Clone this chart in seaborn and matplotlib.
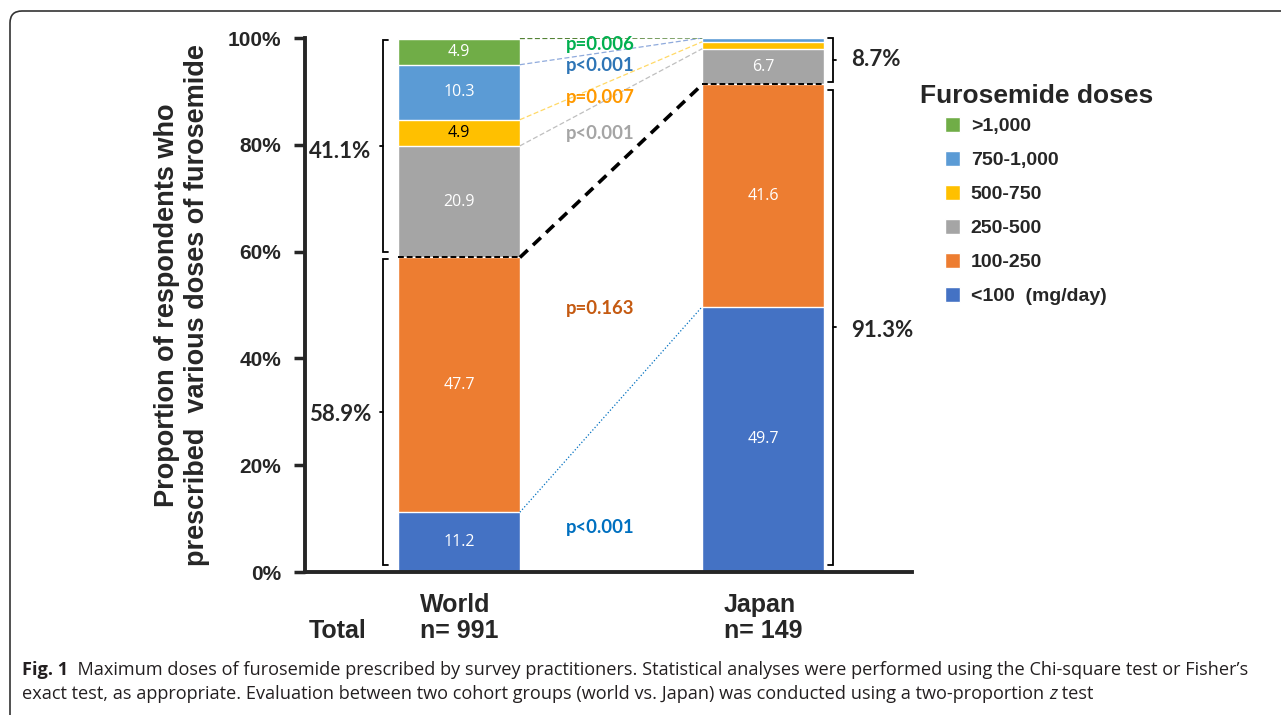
import numpy as np
import seaborn as sns
import matplotlib.pyplot as plt
from matplotlib.patches import Patch, FancyBboxPatch

# data
groups = ['World', 'Japan']
n_total = [991, 149]
doses = ['<100', '100-250', '250-500', '500-750', '750-1,000', '>1,000']
world = [11.2, 47.7, 20.9, 4.9, 10.3, 4.9]
japan = [49.7, 41.6, 6.7, 1.3, 0.7, 0.0]
p_values = ['p<0.001', 'p=0.163', 'p<0.001', 'p=0.007', 'p<0.001', 'p=0.006']

colors = ['#4472c4', '#ed7d31', '#a5a5a5', '#ffc000', '#5b9bd5', '#70ad47']
p_colors = ['#0070c0', '#c55a11', '#a5a5a5', '#ff9900', '#2e75b6', '#00b050']
line_colors = ['#0070c0', 'black', '#bfbfbf', '#ffd966', '#8faadc', '#548235']
p_ypos = [8.4, 49.3, 82.2, 88.9, 94.8, 98.7]

sns.set_style('ticks')
plt.rcParams['font.family'] = ['Liberation Sans', 'DejaVu Sans']

fig = plt.figure(figsize=(12.81, 7.15), dpi=100)
ax = fig.add_axes([305 / 1281, 1 - 572 / 715, 607 / 1281, 534 / 715])

cum_w = np.cumsum(world)
cum_j = np.cumsum(japan)
bw = 0.4

# stacked bars: draw cumulative totals from the top segment down
for i in reversed(range(len(doses))):
    sns.barplot(x=groups, y=[cum_w[i], cum_j[i]], color=colors[i], width=bw,
                saturation=1, ax=ax)

# segment values
for i in range(len(doses)):
    for xpos, vals, cum in [(0, world, cum_w), (1, japan, cum_j)]:
        v = vals[i]
        if v < 3:
            continue
        tc = 'black' if doses[i] == '500-750' else 'white'
        ax.text(xpos, cum[i] - v / 2, f'{v}', ha='center', va='center',
                color=tc, fontsize=11.5, family=['Open Sans'])

# connector lines between the two bars
for i in range(len(doses)):
    if i == 1:
        continue
    ls = ':' if i == 0 else (0, (4, 2))
    ax.plot([bw / 2, 1 - bw / 2], [cum_w[i], cum_j[i]], color=line_colors[i],
            lw=0.9, ls=ls, zorder=3)
ax.plot([bw / 2, 1 - bw / 2], [cum_w[1], cum_j[1]], color='black', lw=2.6,
        ls=(0, (3, 2)), zorder=3)
for xpos, cum in [(0, cum_w), (1, cum_j)]:
    ax.plot([xpos - bw / 2, xpos + bw / 2], [cum[1], cum[1]], color='black',
            lw=1.4, ls=(0, (3, 1.5)), zorder=3)

# p values
for i in range(len(doses)):
    ax.text(0.465, p_ypos[i], p_values[i], ha='center', va='center',
            color=p_colors[i], fontsize=13.3, fontweight='bold', family=['Lato'])


def bracket(x, y0, y1, side):
    s = 0.015 * side
    ax.plot([x + s, x, x, x + s], [y0, y0, y1, y1], color='black', lw=1.3,
            clip_on=False, solid_joinstyle='miter')
    ym = (y0 + y1) / 2
    ax.plot([x, x - s * 0.6], [ym, ym], color='black', lw=1.3, clip_on=False)
    return ym


w_low = cum_w[1]
j_low = cum_j[1]
pct = dict(ha='left', va='center', fontsize=16, fontweight='bold', family=['Lato'])
ym = bracket(-0.25, 99.6, 59.9, 1)
ax.text(-0.495, ym - 1, f'{100 - w_low:.1f}%', **pct)
ym = bracket(-0.25, 58.7, 1.3, 1)
ax.text(-0.495, ym - 0.5, f'{w_low:.1f}%', **pct)
ym = bracket(1.23, 100, 91.8, -1)
ax.text(1.29, ym, f'{100 - j_low:.1f}%', **pct)
ym = bracket(1.23, 90.3, 1.3, -1)
ax.text(1.29, ym - 0.5, f'{j_low:.1f}%', **pct)

# axes styling
ax.set_xlim(-0.507, 1.49)
ax.set_ylim(0, 100)
ax.set_yticks(range(0, 101, 20))
ax.set_yticklabels([f'{v}%' for v in range(0, 101, 20)], fontsize=15,
                   fontweight='bold')
ax.set_xticks([0, 1])
ax.set_xticklabels([f'{g}\nn= {n}' for g, n in zip(groups, n_total)],
                   fontsize=18, fontweight='bold', linespacing=1.12,
                   multialignment='left')
ax.tick_params(axis='x', length=0, pad=15)
ax.tick_params(axis='y', length=8, width=2.5, pad=9, direction='out')
for side in ['top', 'right']:
    ax.spines[side].set_visible(False)
for side in ['left', 'bottom']:
    ax.spines[side].set_linewidth(2.8)
ax.set_xlabel('')
ax.set_ylabel('Proportion of respondents who\nprescribed  various doses of furosemide',
              fontsize=19.5, fontweight='bold', labelpad=13, linespacing=1.2)
fig.text(338 / 1281, 1 - 631 / 715, 'Total', ha='center', va='center',
         fontsize=18, fontweight='bold')

# legend
fig.text(920 / 1281, 1 - 96 / 715, 'Furosemide doses', ha='left', va='center',
         fontsize=19, fontweight='bold')
handles = [Patch(facecolor=colors[i], label=doses[i] + ('  (mg/day)' if i == 0 else ''))
           for i in reversed(range(len(doses)))]
leg = fig.legend(handles=handles, loc='upper left',
                 bbox_to_anchor=(945 / 1281, 1 - 117 / 715), frameon=False,
                 prop={'weight': 'bold', 'size': 14}, labelspacing=0.82,
                 handlelength=0.78, handleheight=0.78, handletextpad=0.55,
                 borderpad=0, borderaxespad=0)

# frame and caption
frame = FancyBboxPatch((10, -30), 1300, 734, boxstyle='round,pad=0,rounding_size=12',
                       transform=None, facecolor='none', edgecolor='#333333', lw=1.2)
fig.patches.append(frame)

renderer = fig.canvas.get_renderer()


def segments(x, y, parts, size):
    for txt, kw in parts:
        t = fig.text(x / 1281, 1 - y / 715, txt, ha='left', va='baseline',
                     fontsize=size, color='#231f20', **kw)
        x += t.get_window_extent(renderer).width


cap = {'family': ['Open Sans']}
segments(22, 675, [('Fig. 1', {'fontweight': 'bold', **cap}),
                   ('  Maximum doses of furosemide prescribed by survey practitioners. '
                    'Statistical analyses were performed using the Chi-square test or Fisher\u2019s', cap)], 13.1)
segments(22, 699, [('exact test, as appropriate. Evaluation between two cohort groups '
                    '(world vs. Japan) was conducted using a two-proportion ', cap),
                   ('z', {'style': 'italic', **cap}), (' test', cap)], 13.1)

fig.savefig('out.png', dpi=100)
